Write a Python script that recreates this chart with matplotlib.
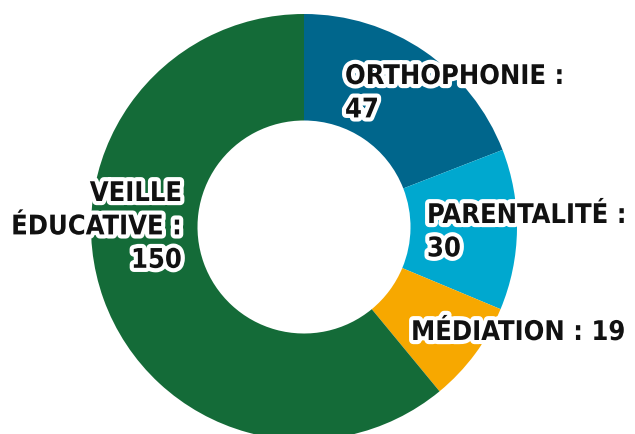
import matplotlib.pyplot as plt
import matplotlib.patheffects as pe

# Data
labels = ["ORTHOPHONIE :\n47", "PARENTALITÉ :\n30", "MÉDIATION : 19", "VEILLE\nÉDUCATIVE :\n150"]
values = [47, 30, 19, 150]
colors = ["#00668C", "#00A8CF", "#F7A800", "#146B38"]

W, H = 635, 434
cx, cy, R = 304, 227, 213  # donut centre / radius in pixels

fig = plt.figure(figsize=(W / 100, H / 100), dpi=100)
ax = fig.add_axes([0, 0, 1, 1])
ax.pie(values, colors=colors, startangle=90, counterclock=False,
       radius=1, wedgeprops=dict(width=0.5, linewidth=0))
ax.set_xlim(-cx / R, (W - cx) / R)
ax.set_ylim(-(H - cy) / R, cy / R)
ax.set_aspect("equal")
ax.axis("off")

# label positions in pixels (x, top y, alignment)
label_pos = [(345, 64, "left"), (427, 203, "left"), (411, 320, "left"), (182, 181, "right")]

stroke = [pe.withStroke(linewidth=6, foreground="white")]
for txt, (x, y, ha) in zip(labels, label_pos):
    fig.text(x / W, 1 - y / H, txt, ha=ha, va="top", fontsize=19.5,
             fontweight="heavy", family="DejaVu Sans", fontstretch="condensed",
             linespacing=1.37, multialignment=ha, path_effects=stroke,
             color="#111111")

fig.savefig("out.png", dpi=100)
